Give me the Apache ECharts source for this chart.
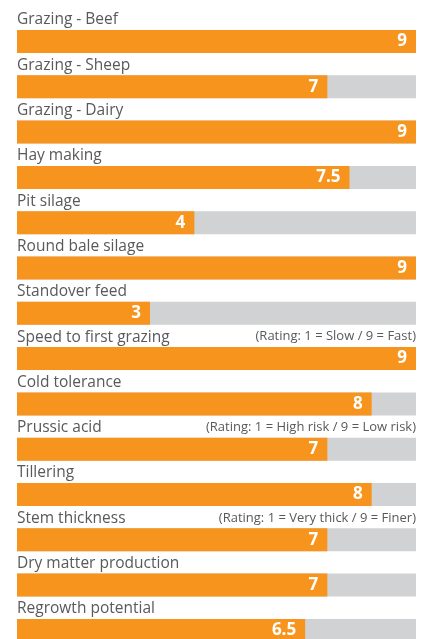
<!DOCTYPE html>
<html><head><meta charset="utf-8">
<script src="https://cdn.jsdelivr.net/npm/echarts@6/dist/echarts.min.js"></script>
<style>html,body{margin:0;padding:0;background:#fff}#c{width:427px;height:639px}</style>
</head><body><div id="c"></div>
<script>
var categories = ["Grazing - Beef","Grazing - Sheep","Grazing - Dairy","Hay making","Pit silage","Round bale silage","Standover feed","Speed to first grazing","Cold tolerance","Prussic acid","Tillering","Stem thickness","Dry matter production","Regrowth potential"];
var values = [9,7,9,7.5,4,9,3,9,8,7,8,7,7,6.5];
var notes = ["","","","","","","","(Rating: 1 = Slow / 9 = Fast)","","(Rating: 1 = High risk / 9 = Low risk)","","(Rating: 1 = Very thick / 9 = Finer)","",""];
var maxRating = 9;

var chart = echarts.init(document.getElementById('c'), null, {renderer:'canvas'});
var font = '"Open Sans", Lato, sans-serif';
chart.setOption({
  animation:false,
  grid:{left:17, right:11, top:18.85, height:634.2, outerBoundsMode:'none', containLabel:false},
  xAxis:{type:'value', min:0, max:maxRating, show:false},
  yAxis:{type:'category', data:categories, inverse:true, show:false},
  series:[
    {type:'bar', barWidth:23, barGap:'-100%', silent:true,
     data:categories.map(function(){return maxRating;}),
     itemStyle:{color:'#D1D2D4'},
     label:{show:true, position:[0,-2], align:'left', verticalAlign:'bottom',
            formatter:function(p){return p.name;}, color:'#58595B', fontSize:15.5, fontFamily:font}},
    {type:'bar', barWidth:23, barGap:'-100%', silent:true,
     data:values, itemStyle:{color:'#F7941D'},
     label:{show:true, position:'insideRight', distance:9, color:'#fff', fontWeight:'bold', fontSize:17, fontFamily:font}},
    {type:'bar', barWidth:23, barGap:'-100%', silent:true,
     data:categories.map(function(){return maxRating;}),
     itemStyle:{color:'rgba(0,0,0,0)'},
     label:{show:true, position:['100%',-4], align:'right', verticalAlign:'bottom',
            formatter:function(p){return notes[p.dataIndex];}, color:'#58595B', fontSize:13, fontFamily:font}}
  ]
});
</script></body></html>
